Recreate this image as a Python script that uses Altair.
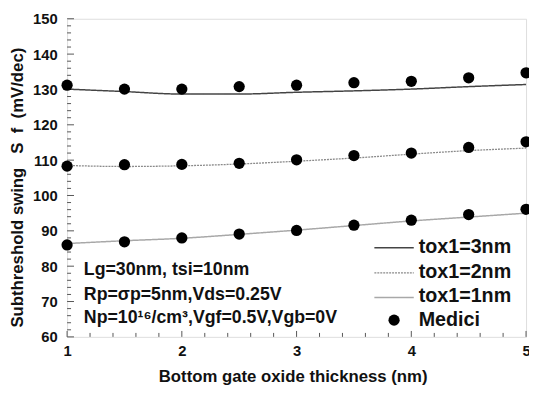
import altair as alt
import pandas as pd

# ---- data ----
t_box = [1, 1.5, 2, 2.5, 3, 3.5, 4, 4.5, 5]

sim_tox3 = [130.1, 129.4, 128.7, 128.7, 129.2, 129.6, 130.1, 130.8, 131.4]
sim_tox2 = [108.5, 108.2, 108.4, 108.9, 109.7, 110.6, 111.7, 112.7, 113.4]
sim_tox1 = [86.4, 87.2, 87.9, 89.0, 90.2, 91.5, 92.8, 93.9, 95.0]

med_tox3 = [131.2, 130.1, 130.1, 130.8, 131.2, 131.9, 132.3, 133.3, 134.7]
med_tox2 = [108.3, 108.7, 108.8, 109.1, 110.1, 111.3, 112.0, 113.6, 115.2]
med_tox1 = [86.0, 86.9, 88.0, 89.1, 90.1, 91.6, 93.0, 94.6, 96.1]

x_major = [1, 2, 3, 4, 5]
x_minor = [1.2, 1.4, 1.6, 1.8, 2.2, 2.4, 2.6, 2.8, 3.2, 3.4, 3.6, 3.8,
           4.2, 4.4, 4.6, 4.8]
y_major = [60, 70, 80, 90, 100, 110, 120, 130, 140, 150]
y_minor = [62, 64, 66, 68, 72, 74, 76, 78, 82, 84, 86, 88, 92, 94, 96, 98,
           102, 104, 106, 108, 112, 114, 116, 118, 122, 124, 126, 128,
           132, 134, 136, 138, 142, 144, 146, 148]

legend_labels = ["tox1=3nm", "tox1=2nm", "tox1=1nm", "Medici"]
note_lines = ["Lg=30nm, tsi=10nm",
              "Rp=\u03c3p=5nm,Vds=0.25V",
              "Np=10\u00b9\u2076/cm\u00b3,Vgf=0.5V,Vgb=0V"]

# ---- layout ----
W, H = 466, 323
FONT = "Liberation Sans"

xs = alt.Scale(domain=[1, 5], nice=False, zero=False)
ys = alt.Scale(domain=[60, 150], nice=False, zero=False)

sim = pd.DataFrame({
    "t": t_box * 3,
    "S": sim_tox3 + sim_tox2 + sim_tox1,
    "series": ["tox1=3nm"] * 9 + ["tox1=2nm"] * 9 + ["tox1=1nm"] * 9,
})
med = pd.DataFrame({"t": t_box * 3, "S": med_tox3 + med_tox2 + med_tox1})

XTITLE = "Bottom gate oxide thickness (nm)"
YTITLE = "Subthreshold swing\u00a0\u00a0\u00a0S\u00a0\u00a0f\u00a0\u00a0(mV/dec)"

xaxis = alt.Axis(values=x_major, format="d", grid=False, ticks=False, tickSize=0,
                 domain=False, labelFont=FONT, labelFontSize=15,
                 labelFontWeight="bold", labelColor="#111", labelPadding=7,
                 labelOverlap=False, labelFlush=False,
                 title=XTITLE, titleFont=FONT,
                 titleFontSize=17, titleFontWeight="bold", titleColor="#111",
                 titleX=229, titleY=40, titleBaseline="middle", titleAlign="center")
yaxis = alt.Axis(values=y_major, format="d", grid=False, ticks=False, tickSize=0,
                 domain=False, labelFont=FONT, labelFontSize=15, labelFontWeight="bold",
                 labelColor="#111", labelPadding=10, labelOverlap=False,
                 labelFlush=False, labelBound=False,
                 title=YTITLE,
                 titleFont=FONT, titleFontSize=17, titleFontWeight="bold",
                 titleColor="#111", titleX=-50, titleY=171, titleAngle=-90,
                 titleBaseline="middle", titleAlign="center")

def X(field):
    return alt.X(field, scale=xs, axis=xaxis, title=XTITLE)

def Y(field):
    return alt.Y(field, scale=ys, axis=yaxis, title=YTITLE)

def line_layer(name, color, dash, width):
    return alt.Chart(sim[sim.series == name]).mark_line(
        color=color, strokeWidth=width, strokeDash=dash, interpolate="monotone"
    ).encode(x=X("t:Q"), y=Y("S:Q"))

l3 = line_layer("tox1=3nm", "#444444", [1, 0], 1.5)
l2 = line_layer("tox1=2nm", "#8a8a8a", [2, 1], 1.3)
l1 = line_layer("tox1=1nm", "#a8a8a8", [1, 0], 1.5)

pts = alt.Chart(med).mark_circle(color="black", opacity=1, size=130).encode(
    x=X("t:Q"), y=Y("S:Q"))

tick_col = "#555555"
xmaj = alt.Chart(pd.DataFrame({"t": x_major})).mark_rule(color=tick_col, strokeWidth=1).encode(
    x=X("t:Q"), y=alt.value(H), y2=alt.value(H - 6))
xmin = alt.Chart(pd.DataFrame({"t": x_minor})).mark_rule(color=tick_col, strokeWidth=1).encode(
    x=X("t:Q"), y=alt.value(H), y2=alt.value(H - 4))
ymaj = alt.Chart(pd.DataFrame({"S": y_major})).mark_rule(color=tick_col, strokeWidth=1).encode(
    y=Y("S:Q"), x=alt.value(0), x2=alt.value(7))
ymin = alt.Chart(pd.DataFrame({"S": y_minor})).mark_rule(color=tick_col, strokeWidth=1).encode(
    y=Y("S:Q"), x=alt.value(0), x2=alt.value(4))

# ---- notes ----
note_y = [255, 281, 304]
notes = [
    alt.Chart(pd.DataFrame({"txt": [t]})).mark_text(
        align="left", baseline="middle", font=FONT, fontSize=18,
        fontWeight="bold", color="#111").encode(
        text="txt:N", x=alt.value(17), y=alt.value(yy))
    for t, yy in zip(note_lines, note_y)
]

# ---- legend ----
leg_y = [231.5, 257, 282, 306]
leg_styles = [("#444444", [1, 0], 1.5), ("#8a8a8a", [2, 1], 1.3), ("#a8a8a8", [1, 0], 1.5)]
legend = []
for i, (c, d, w) in enumerate(leg_styles):
    legend.append(alt.Chart(pd.DataFrame({"k": [legend_labels[i]]})).mark_rule(
        color=c, strokeDash=d, strokeWidth=w).encode(
        x=alt.value(312), x2=alt.value(352), y=alt.value(leg_y[i] + 1)))
legend.append(alt.Chart(pd.DataFrame({"k": [legend_labels[3]]})).mark_circle(
    color="black", opacity=1, size=130).encode(x=alt.value(332), y=alt.value(leg_y[3])))
for i, lab in enumerate(legend_labels):
    legend.append(alt.Chart(pd.DataFrame({"txt": [lab]})).mark_text(
        align="left", baseline="middle", font=FONT, fontSize=20,
        fontWeight="bold", color="#111").encode(
        text="txt:N", x=alt.value(357), y=alt.value(leg_y[i])))

chart = alt.layer(xmin, xmaj, ymin, ymaj, l3, l2, l1, pts, *notes, *legend).properties(
    width=W, height=H,
    autosize=alt.AutoSizeParams(type="none"),
    padding={"left": 60, "top": 8, "right": 3, "bottom": 50},
).configure_view(stroke="#777777", strokeWidth=1.5).configure(background="white")

chart.save("out.html", embed_options={"renderer": "svg", "actions": False})
